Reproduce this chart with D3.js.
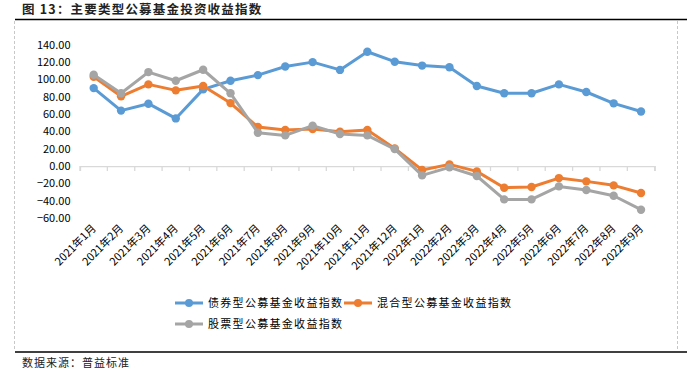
<!DOCTYPE html>
<html><head><meta charset="utf-8">
<script src="https://cdn.jsdelivr.net/npm/d3@7"></script>
<style>
body{margin:0;background:#fff;}
svg{display:block;font-family:"Noto Sans CJK SC","Noto Sans",sans-serif;}
</style></head>
<body><svg id="c" width="687" height="375"></svg>
<script>
const categories = ["2021年1月","2021年2月","2021年3月","2021年4月","2021年5月","2021年6月","2021年7月","2021年8月","2021年9月","2021年10月","2021年11月","2021年12月","2022年1月","2022年2月","2022年3月","2022年4月","2022年5月","2022年6月","2022年7月","2022年8月","2022年9月"];
const bondIndex = [90, 64, 72, 55, 88.5, 98.5, 105, 115, 120, 111, 132, 120.5, 116, 114, 92.4, 84, 84, 94.3, 85.5, 72.4, 63];
const mixedIndex = [103, 80.5, 94.3, 87.4, 92.4, 72.7, 45, 41.6, 42.7, 39.6, 41.6, 20.4, -4.6, 1.9, -6.2, -25, -24.2, -13.9, -17.7, -22.3, -31.2];
const equityIndex = [105.5, 84, 108.5, 98.5, 111.2, 84, 38.5, 35.4, 46.6, 37, 35.4, 19.6, -10.8, -1.5, -11.5, -38.5, -38.5, -23.5, -27.7, -34.3, -50.4];
const seriesNames = ["债券型公募基金收益指数","混合型公募基金收益指数","股票型公募基金收益指数"];
const seriesColors = ["#5B9BD5","#ED7D31","#A5A5A5"];
const yTicks = [140,120,100,80,60,40,20,0,-20,-40,-60];
const titleText = "图 13：主要类型公募基金投资收益指数";
const sourceText = "数据来源：普益标准";

const svg = d3.select("#c");
// frame
svg.append("text").attr("x",22).attr("y",14).attr("font-size",12.5).attr("font-weight","bold")
  .attr("letter-spacing",1.2).attr("fill","#222").text(titleText);
svg.append("line").attr("x1",15).attr("x2",687).attr("y1",19.5).attr("y2",19.5).attr("stroke","#000").attr("stroke-width",1.5);
svg.append("line").attr("x1",14.5).attr("x2",14.5).attr("y1",21).attr("y2",350).attr("stroke","#c8c8c8").attr("stroke-dasharray","3,2");
svg.append("line").attr("x1",677.5).attr("x2",677.5).attr("y1",21).attr("y2",350).attr("stroke","#c8c8c8").attr("stroke-dasharray","3,2");
svg.append("line").attr("x1",15).attr("x2",687).attr("y1",352).attr("y2",352).attr("stroke","#000").attr("stroke-width",1.5);
svg.append("text").attr("x",22).attr("y",367).attr("font-size",11).attr("letter-spacing",1).attr("fill","#222").text(sourceText);

const x = d3.scaleBand().domain(categories).range([80,654.7]);
const y = d3.scaleLinear().domain([-60,140]).range([218,44.8]);

// y axis labels
const yAxis = d3.axisLeft(y).tickValues(yTicks).tickFormat(d3.format(".2f")).tickSize(0).tickPadding(0);
const gy = svg.append("g").attr("transform","translate(70.5,0)").call(yAxis);
gy.select(".domain").remove();
gy.selectAll("text").attr("font-size",11).attr("fill","#000").attr("font-family","'Noto Sans CJK SC',sans-serif");

// x axis line at zero
const xAxis = d3.axisBottom(x).tickSizeInner(5).tickSizeOuter(5).tickFormat("");
const gx = svg.append("g").attr("transform",`translate(0,${y(0)})`).call(xAxis);
gx.select(".domain").attr("stroke","#d9d9d9").attr("stroke-width",1.3);
gx.selectAll(".tick line").attr("stroke","#d9d9d9").attr("stroke-width",1.3).attr("transform",`translate(${-x.bandwidth()/2},0)`);
// last tick at right edge
gx.append("line").attr("x1",654.7).attr("x2",654.7).attr("y1",0).attr("y2",5).attr("stroke","#d9d9d9").attr("stroke-width",1.3);

// x labels below plot
const lab = svg.append("g");
categories.forEach(c=>{
  const cx = x(c)+x.bandwidth()/2 + 3;
  lab.append("text").attr("transform",`translate(${cx},229) rotate(-45)`)
    .attr("text-anchor","end").attr("font-size",11).attr("fill","#000").text(c);
});

const data = [bondIndex, mixedIndex, equityIndex];
const line = d3.line().x((d,i)=>x(categories[i])+x.bandwidth()/2).y(d=>y(d));
data.forEach((vals,k)=>{
  const g = svg.append("g");
  g.append("path").datum(vals).attr("d",line).attr("fill","none").attr("stroke",seriesColors[k])
    .attr("stroke-width",3).attr("stroke-linejoin","round");
  g.selectAll("circle").data(vals).join("circle")
    .attr("cx",(d,i)=>x(categories[i])+x.bandwidth()/2).attr("cy",d=>y(d)).attr("r",4.2)
    .attr("fill",seriesColors[k]);
});

// legend
const legPos = [[175,303],[344,303],[175,324]];
seriesNames.forEach((n,k)=>{
  const [lx,ly] = legPos[k];
  const g = svg.append("g");
  g.append("line").attr("x1",lx).attr("x2",lx+28).attr("y1",ly).attr("y2",ly).attr("stroke",seriesColors[k]).attr("stroke-width",3);
  g.append("circle").attr("cx",lx+14).attr("cy",ly).attr("r",4).attr("fill",seriesColors[k]);
  g.append("text").attr("x",lx+33).attr("y",ly+4).attr("font-size",11).attr("letter-spacing",1.3).attr("fill","#000").text(n);
});
</script></body></html>
